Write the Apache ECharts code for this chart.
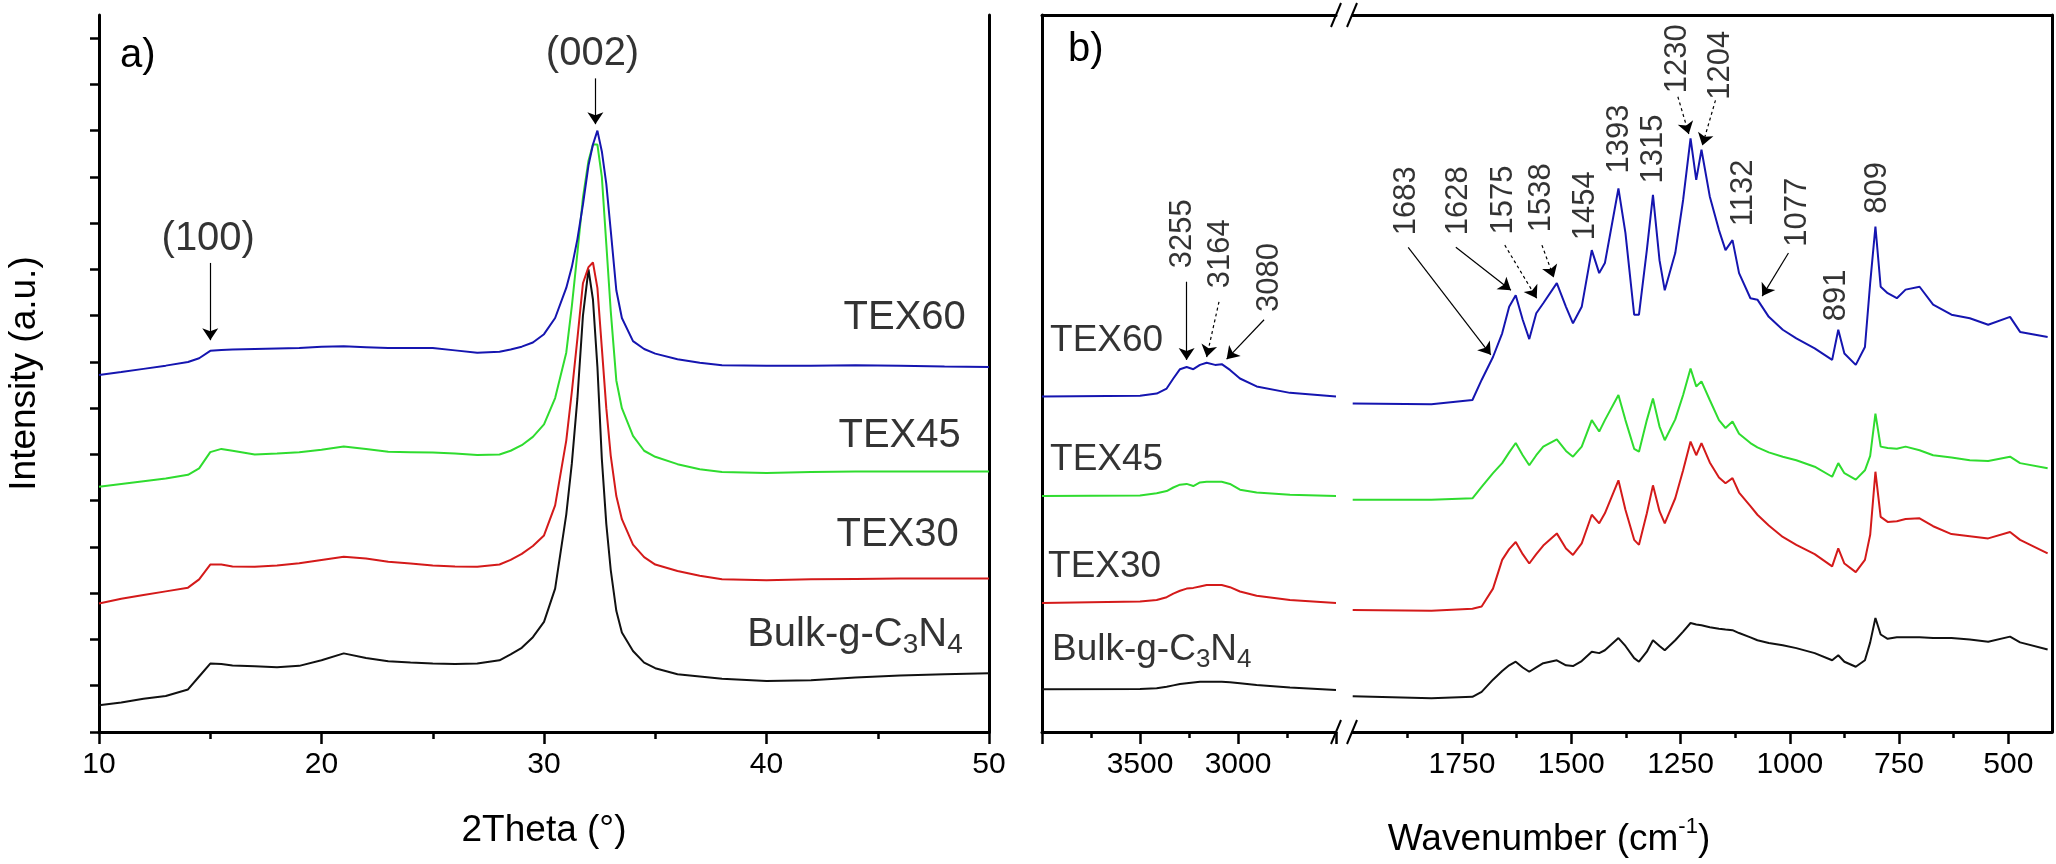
<!DOCTYPE html>
<html>
<head>
<meta charset="utf-8">
<script src="https://cdn.jsdelivr.net/npm/echarts@6.0.0/dist/echarts.min.js"></script>
<style>
  html, body { margin: 0; padding: 0; background: #fff; }
  #main { width: 2056px; height: 864px; }
</style>
</head>
<body>
<div id="main"></div>
<script>
var FONT = "'Liberation Sans', Arial, sans-serif";
var BLUE = '#1515b0', GREEN = '#2fdc2f', RED = '#d41a1a', BLACK = '#111111';

// ---- a) XRD, 2theta (deg) and intensity (stacked, a.u.)
var xrdTheta = [10, 11, 12, 13, 14, 14.5, 15, 15.5, 16, 17, 18, 19, 20, 21, 22, 23, 24, 25, 26, 27, 28, 28.5,
    29, 29.5, 30, 30.5, 31, 31.25, 31.5, 31.75, 32, 32.2, 32.4, 32.6, 32.8, 33, 33.25, 33.5, 34, 34.5, 35,
    36, 37, 38, 40, 42, 44, 46, 48, 50];
var xrdTex60 = [7.72, 7.78, 7.85, 7.92, 8.0, 8.08, 8.24, 8.26, 8.27, 8.28, 8.29, 8.3, 8.33, 8.34, 8.32, 8.3, 8.3, 8.3, 8.25, 8.2, 8.22, 8.27,
    8.33, 8.42, 8.6, 8.95, 9.6, 10.05, 10.65, 11.4, 12.25, 12.7, 13.0, 12.55, 11.85, 10.84, 9.55, 8.95, 8.45, 8.28, 8.18,
    8.06, 7.98, 7.93, 7.92, 7.92, 7.93, 7.92, 7.9, 7.89];
var xrdTex45 = [5.30, 5.36, 5.42, 5.48, 5.56, 5.7, 6.05, 6.12, 6.08, 6.0, 6.02, 6.05, 6.1, 6.17, 6.12, 6.06, 6.05, 6.04, 6.02, 5.99, 6.0, 6.08,
    6.2, 6.38, 6.65, 7.22, 8.2, 9.2, 10.35, 11.55, 12.35, 12.7, 12.7, 12.0, 10.55, 9.1, 7.6, 7.0, 6.4, 6.08, 5.95,
    5.79, 5.68, 5.62, 5.6, 5.62, 5.63, 5.63, 5.63, 5.63];
var xrdTex30 = [2.78, 2.88, 2.96, 3.04, 3.12, 3.3, 3.62, 3.62, 3.58, 3.57, 3.6, 3.65, 3.72, 3.79, 3.75, 3.68, 3.64, 3.6, 3.58, 3.57, 3.62, 3.72,
    3.85, 4.02, 4.25, 4.9, 6.3, 7.35, 8.5, 9.7, 10.05, 10.15, 9.6, 8.3, 7.0, 5.97, 5.1, 4.6, 4.05, 3.78, 3.62,
    3.48, 3.38, 3.3, 3.28, 3.3, 3.31, 3.32, 3.32, 3.32];
var xrdBulk = [0.58, 0.64, 0.72, 0.78, 0.92, 1.2, 1.48, 1.47, 1.44, 1.42, 1.4, 1.43, 1.55, 1.7, 1.6, 1.53, 1.5, 1.48, 1.47, 1.48, 1.55, 1.68,
    1.82, 2.05, 2.38, 3.1, 4.7, 5.8, 7.2, 9.0, 10.0, 9.35, 7.9, 5.9, 4.5, 3.5, 2.62, 2.15, 1.75, 1.5, 1.38,
    1.25, 1.2, 1.15, 1.1, 1.12, 1.18, 1.22, 1.25, 1.27];

// ---- b) FTIR, 4000-2500 cm-1 part
var ftirWaveHigh = [4000, 3500, 3415, 3364, 3330, 3296, 3262, 3228, 3194, 3160, 3117, 3083, 3041, 2990, 2905, 2735, 2500];
var ftirTex60High = [46.8, 46.9, 47.2, 47.9, 49.3, 50.6, 50.9, 50.6, 51.2, 51.5, 51.2, 51.3, 50.5, 49.3, 48.2, 47.3, 46.8];
var ftirTex45High = [32.9, 33.0, 33.3, 33.6, 34.1, 34.5, 34.6, 34.3, 34.8, 34.9, 34.9, 34.9, 34.6, 33.8, 33.4, 33.1, 32.9];
var ftirTex30High = [18.0, 18.2, 18.4, 18.8, 19.3, 19.7, 20.0, 20.1, 20.3, 20.5, 20.5, 20.5, 20.2, 19.6, 19.0, 18.4, 18.0];
var ftirBulkHigh = [5.95, 6.0, 6.1, 6.3, 6.5, 6.7, 6.8, 6.9, 7.0, 7.0, 7.0, 7.0, 6.95, 6.8, 6.55, 6.2, 5.86];

// ---- b) FTIR, 2000-400 cm-1 part
var ftirWaveLow = [2000, 1820, 1726, 1705, 1679, 1658, 1642, 1627, 1611, 1596, 1580, 1564, 1533, 1512, 1496, 1476,
    1453, 1436, 1423, 1392, 1376, 1356, 1345, 1327, 1313, 1298, 1286, 1262, 1244, 1227, 1214, 1202,
    1183, 1162, 1147, 1131, 1116, 1090, 1074, 1048, 1016, 985, 943, 903, 889, 875, 849, 828,
    816, 804, 792, 776, 755, 735, 703, 672, 630, 588, 546, 496, 473, 410];
var ftirTex60Low = [45.8, 45.7, 46.3, 49.1, 52.3, 55.6, 59.3, 60.9, 57.5, 54.8, 58.4, 59.8, 62.6, 59.3, 57.0, 59.3,
    67.2, 64.0, 65.4, 75.8, 69.6, 58.2, 58.2, 67.2, 74.9, 65.8, 61.6, 66.8, 74.2, 82.8, 77.0, 81.2,
    74.7, 70.0, 67.2, 68.6, 64.0, 60.5, 60.3, 57.9, 56.1, 54.9, 53.5, 51.9, 56.1, 52.8, 51.2, 53.7,
    62.6, 70.5, 62.1, 61.2, 60.5, 61.7, 62.1, 59.6, 58.2, 57.7, 56.8, 57.9, 55.8, 55.1];
var ftirTex45Low = [32.4, 32.4, 32.6, 34.2, 36.1, 37.5, 39.0, 40.3, 38.6, 37.2, 38.6, 39.8, 40.8, 39.2, 38.4, 39.8,
    43.5, 41.9, 43.5, 47.0, 43.5, 39.5, 39.1, 43.5, 46.5, 42.6, 40.7, 43.6, 47.0, 50.7, 48.2, 48.9,
    46.3, 43.5, 42.4, 43.3, 41.6, 40.3, 39.7, 39.0, 38.4, 37.9, 37.0, 35.6, 37.5, 36.1, 35.2, 36.5,
    38.5, 44.4, 39.8, 39.6, 39.5, 39.8, 39.3, 38.6, 38.3, 37.9, 37.8, 38.4, 37.5, 36.8];
var ftirTex30Low = [17.0, 16.9, 17.2, 17.5, 20.0, 24.0, 25.5, 26.5, 24.8, 23.5, 24.8, 26.0, 27.7, 25.6, 24.7, 26.3,
    30.3, 29.1, 30.5, 35.1, 31.0, 26.8, 26.1, 30.5, 34.4, 30.8, 29.1, 32.6, 36.5, 40.5, 38.6, 40.3,
    37.6, 35.5, 34.7, 35.4, 33.4, 31.5, 30.3, 28.8, 27.2, 26.1, 24.8, 23.1, 25.6, 23.5, 22.3, 24.0,
    27.5, 36.3, 30.0, 29.3, 29.4, 29.7, 29.8, 28.7, 27.6, 27.3, 27.0, 27.9, 26.8, 24.9];
var ftirBulkLow = [5.0, 4.7, 4.9, 5.6, 7.3, 8.5, 9.3, 9.8, 9.0, 8.4, 9.0, 9.6, 10.0, 9.3, 9.2, 9.9,
    11.2, 11.0, 11.4, 13.1, 12.0, 10.3, 9.8, 11.2, 12.8, 12.0, 11.4, 12.8, 14.0, 15.2, 15.0, 14.9,
    14.6, 14.4, 14.3, 14.2, 13.8, 13.2, 12.8, 12.4, 12.1, 11.7, 11.0, 10.0, 10.7, 9.8, 9.1, 10.0,
    12.5, 15.9, 13.6, 13.0, 13.2, 13.2, 13.2, 13.1, 13.1, 12.9, 12.6, 13.3, 12.5, 11.5];

// tick labels
var thetaTicks = [10, 20, 30, 40, 50];
var waveTicksHigh = [3500, 3000];
var waveTicksLow = [1750, 1500, 1250, 1000, 750, 500];
var waveMinorLow = [1875, 1625, 1375, 1125, 875, 625];

// sample names
var sampleNames = ['TEX60', 'TEX45', 'TEX30', '{m|Bulk-g-C}{s|3}{m|N}{s|4}'];
// annotations (data coordinates of the labels and arrows)
var xrdNamePos = [[48.96, 8.95], [48.73, 6.40], [48.64, 4.26], [48.82, 2.1]];
var ftirNamePos = [[3959, 54.5], [3959, 37.9], [3969, 23.0], [3949, 11.4]];
var xrdPeaks = [['(100)', 14.91, 10.65], ['(002)', 32.18, 14.66]];
var xrdArrows = [[15.0, 10.14, 15.0, 8.47], [32.31, 14.13, 32.31, 13.14]];
var highPeaks = [['3255', 3281, 69.5], ['3164', 3087, 66.7], ['3080', 2837, 63.4]];
var highArrows = [[3262, 62.8, 3262, 51.9, 'solid'], [3097, 60.0, 3160, 52.3, 'dashed'], [2867, 57.5, 3058, 52.0, 'solid']];
var lowPeaks = [['1683', 1878, 74.1], ['1628', 1758, 74.1], ['1575', 1656, 74.2], ['1538', 1567, 74.5],
    ['1454', 1468, 73.4], ['1393', 1390, 82.7], ['1315', 1311, 81.3], ['1230', 1256, 93.9], ['1204', 1158, 93.0],
    ['1132', 1105, 75.2], ['1077', 983, 72.5], ['891', 893, 60.9], ['809', 800, 75.9]];
var lowArrows = [[1873, 67.6, 1684, 52.6, 'solid'], [1764, 67.6, 1638, 61.6, 'solid'], [1652, 67.9, 1579, 60.5, 'dashed'],
    [1567, 67.9, 1540, 63.4, 'dashed'], [1256, 88.6, 1231, 83.4, 'dashed'], [1170, 88.1, 1200, 81.8, 'dashed'],
    [1003, 66.8, 1063, 60.8, 'solid']];

function pairs(xs, ys) {
    return xs.map(function (x, i) { return [x, ys[i]]; });
}

var myChart = echarts.init(document.getElementById('main'), null, {renderer: 'canvas'});

var subRich = {
    m: {fontSize: 40, lineHeight: 48, fontFamily: FONT, color: '#000'},
    s: {fontSize: 28, lineHeight: 12, verticalAlign: 'bottom', fontFamily: FONT, color: '#000'}
};
var subRichB = {
    m: {fontSize: 37, lineHeight: 46, fontFamily: FONT, color: '#000'},
    s: {fontSize: 26, lineHeight: 12, verticalAlign: 'bottom', fontFamily: FONT, color: '#000'}
};

function lineSeries(xi, yi, data, color, width) {
    return {
        type: 'line', xAxisIndex: xi, yAxisIndex: yi, data: data,
        symbol: 'none', smooth: false, silent: true,
        lineStyle: {color: color, width: width}
    };
}

function nameSeries(xi, yi, pos, side, rich) {
    return {
        type: 'scatter', xAxisIndex: xi, yAxisIndex: yi, symbolSize: 0, silent: true,
        data: pos.map(function (p, i) {
            return {
                value: p,
                label: {
                    show: true, position: side, distance: 0,
                    formatter: sampleNames[i].charAt(0) === '{' ? sampleNames[i] : '{m|' + sampleNames[i] + '}',
                    rich: rich
                }
            };
        })
    };
}

function peakSeries(xi, yi, peaks, arrows, rotate, size) {
    return {
        type: 'scatter', xAxisIndex: xi, yAxisIndex: yi, symbolSize: 0, silent: true,
        itemStyle: {color: '#000'},
        data: peaks.map(function (p) {
            return {
                value: [p[1], p[2]],
                label: {
                    show: true, position: 'inside', rotate: rotate, formatter: p[0],
                    fontSize: size, fontFamily: FONT, color: '#000'
                }
            };
        }),
        markLine: {
            silent: true, animation: false,
            symbol: ['none', 'arrow'], symbolSize: 12,
            label: {show: false},
            lineStyle: {color: '#000', width: 1.2},
            data: arrows.map(function (a) {
                return [
                    {coord: [a[0], a[1]], symbol: 'none',
                        lineStyle: {color: '#000', width: 1.2, type: a[4] === 'dashed' ? [3, 3] : 'solid'}},
                    {coord: [a[2], a[3]], symbol: 'arrow', symbolSize: 12, itemStyle: {color: '#000'}}
                ];
            })
        }
    };
}

var axisLine = {show: true, lineStyle: {color: '#000', width: 3}};
var plainLine = function (gi, pos) {
    return {
        gridIndex: gi, type: 'value', position: pos, min: 0, max: 1,
        axisLine: axisLine, axisTick: {show: false}, axisLabel: {show: false}, splitLine: {show: false}
    };
};

var option = {
    animation: false,
    textStyle: {fontFamily: FONT, color: '#000'},
    grid: [
        {left: 99, top: 15, width: 890, height: 717},
        {left: 1042, top: 15, width: 294, height: 717},
        {left: 1352.7, top: 15, width: 699.3, height: 717}
    ],
    xAxis: [
        {
            gridIndex: 0, type: 'value', min: 10, max: 50, interval: 10,
            axisLine: axisLine,
            axisTick: {show: true, length: 12, lineStyle: {color: '#000', width: 2.5}},
            minorTick: {show: true, splitNumber: 2, length: 7, lineStyle: {color: '#000', width: 2.5}},
            splitLine: {show: false}, minorSplitLine: {show: false},
            axisLabel: {fontSize: 30, margin: 18, color: '#000', fontFamily: FONT,
                formatter: function (v) { return thetaTicks.indexOf(v) >= 0 ? String(v) : ''; }},
            name: '2Theta (°)', nameLocation: 'middle', nameGap: 80,
            nameTextStyle: {fontSize: 37, color: '#000', fontFamily: FONT}
        },
        plainLine(0, 'top'),
        {
            gridIndex: 1, type: 'value', min: 2500, max: 4000, interval: 500, inverse: true,
            axisLine: axisLine,
            axisTick: {show: true, length: 12, lineStyle: {color: '#000', width: 2.5}},
            minorTick: {show: true, splitNumber: 2, length: 6, lineStyle: {color: '#000', width: 2.5}},
            splitLine: {show: false}, minorSplitLine: {show: false},
            axisLabel: {fontSize: 30, margin: 18, color: '#000', fontFamily: FONT,
                formatter: function (v) { return waveTicksHigh.indexOf(v) >= 0 ? String(v) : ''; }}
        },
        plainLine(1, 'top'),
        {
            gridIndex: 2, type: 'value', min: 400, max: 2000, inverse: true,
            axisLine: axisLine,
            axisTick: {show: true, length: 12, customValues: waveTicksLow, lineStyle: {color: '#000', width: 2.5}},
            splitLine: {show: false},
            axisLabel: {fontSize: 30, margin: 18, color: '#000', fontFamily: FONT, customValues: waveTicksLow,
                formatter: function (v) { return String(v); }}
        },
        {
            gridIndex: 2, type: 'value', min: 400, max: 2000, inverse: true, position: 'bottom',
            axisLine: {show: false},
            axisTick: {show: true, length: 6, customValues: waveMinorLow, lineStyle: {color: '#000', width: 2.5}},
            splitLine: {show: false}, axisLabel: {show: false}
        },
        plainLine(2, 'top')
    ],
    yAxis: [
        {
            gridIndex: 0, type: 'value', min: 0, max: 15.5, interval: 1,
            axisLine: axisLine,
            axisTick: {show: true, length: 9, customValues: [0, 1, 2, 3, 4, 5, 6, 7, 8, 9, 10, 11, 12, 13, 14, 15],
                lineStyle: {color: '#000', width: 2.5}},
            axisLabel: {show: false}, splitLine: {show: false},
            name: 'Intensity (a.u.)', nameLocation: 'middle', nameGap: 56,
            nameTextStyle: {fontSize: 37, color: '#000', fontFamily: FONT}
        },
        plainLine(0, 'right'),
        {
            gridIndex: 1, type: 'value', min: 0, max: 100,
            axisLine: axisLine, axisTick: {show: false}, axisLabel: {show: false}, splitLine: {show: false}
        },
        {
            gridIndex: 2, type: 'value', min: 0, max: 100,
            axisLine: {show: false}, axisTick: {show: false}, axisLabel: {show: false}, splitLine: {show: false}
        },
        plainLine(2, 'right')
    ],
    series: [
        lineSeries(0, 0, pairs(xrdTheta, xrdBulk), BLACK, 2),
        lineSeries(0, 0, pairs(xrdTheta, xrdTex30), RED, 2),
        lineSeries(0, 0, pairs(xrdTheta, xrdTex45), GREEN, 2),
        lineSeries(0, 0, pairs(xrdTheta, xrdTex60), BLUE, 2),

        lineSeries(2, 2, pairs(ftirWaveHigh, ftirTex60High), BLUE, 2),
        lineSeries(2, 2, pairs(ftirWaveHigh, ftirTex45High), GREEN, 2),
        lineSeries(2, 2, pairs(ftirWaveHigh, ftirTex30High), RED, 2),
        lineSeries(2, 2, pairs(ftirWaveHigh, ftirBulkHigh), BLACK, 2),

        lineSeries(4, 3, pairs(ftirWaveLow, ftirTex60Low), BLUE, 2),
        lineSeries(4, 3, pairs(ftirWaveLow, ftirTex45Low), GREEN, 2),
        lineSeries(4, 3, pairs(ftirWaveLow, ftirTex30Low), RED, 2),
        lineSeries(4, 3, pairs(ftirWaveLow, ftirBulkLow), BLACK, 2),

        nameSeries(0, 0, xrdNamePos, 'left', subRich),
        nameSeries(2, 2, ftirNamePos, 'right', subRichB),
        peakSeries(0, 0, xrdPeaks, xrdArrows, 0, 40),
        peakSeries(2, 2, highPeaks, highArrows, 90, 31),
        peakSeries(4, 3, lowPeaks, lowArrows, 90, 31)
    ],
    graphic: [
        {type: 'text', left: 120, top: 36, style: {text: 'a)', font: '40px ' + FONT, fill: '#000'}},
        {type: 'text', left: 1068, top: 30, style: {text: 'b)', font: '40px ' + FONT, fill: '#000'}},
        {
            type: 'text', x: 1549, y: 840,
            style: {
                text: '{m|Wavenumber (cm}{u|-1}{m|)}', align: 'center', verticalAlign: 'middle',
                rich: {
                    m: {fontSize: 37, lineHeight: 48, fontFamily: FONT, fill: '#000'},
                    u: {fontSize: 22, lineHeight: 14, verticalAlign: 'top', fontFamily: FONT, fill: '#000'}
                }
            }
        },
        // axis break marks
        {type: 'line', shape: {x1: 1331, y1: 27, x2: 1341, y2: 3}, style: {stroke: '#000', lineWidth: 2}},
        {type: 'line', shape: {x1: 1347, y1: 27, x2: 1357, y2: 3}, style: {stroke: '#000', lineWidth: 2}},
        {type: 'line', shape: {x1: 1331, y1: 744, x2: 1341, y2: 720}, style: {stroke: '#000', lineWidth: 2}},
        {type: 'line', shape: {x1: 1347, y1: 744, x2: 1357, y2: 720}, style: {stroke: '#000', lineWidth: 2}}
    ]
};

myChart.setOption(option);
</script>
</body>
</html>
